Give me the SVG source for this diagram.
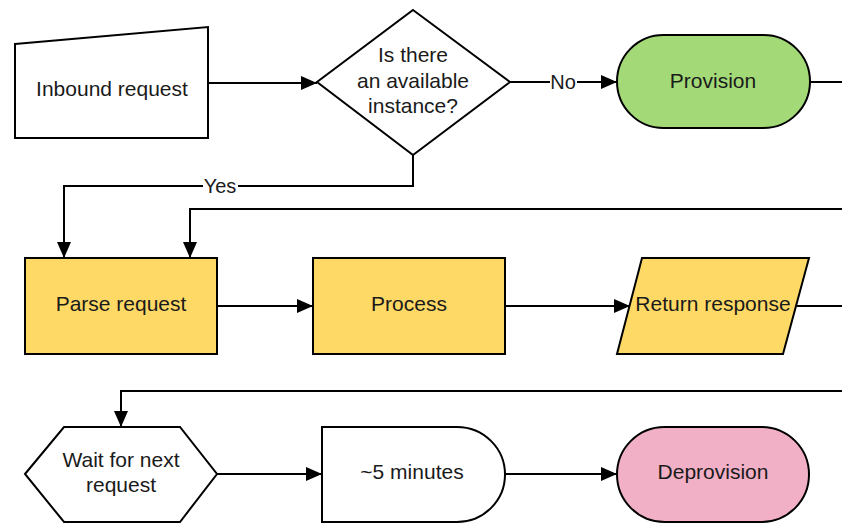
<svg xmlns="http://www.w3.org/2000/svg" width="842" height="524" viewBox="0 0 842 524">
<defs>
<style>
.shape{stroke:#000;stroke-width:2;stroke-linejoin:miter}
.w{fill:#fff}.y{fill:#ffd966}.g{fill:#a3d977}.p{fill:#f1b0c5}
text{font-family:"Liberation Sans",Arial,sans-serif;font-size:21px;fill:#1a1a1a;text-anchor:middle}
.c{fill:none;stroke:#000;stroke-width:2}
.lbl{font-size:20px}
</style>
<marker id="arr" markerUnits="userSpaceOnUse" markerWidth="18" markerHeight="14" refX="16" refY="7" orient="auto">
<path d="M0,0 L16,7 L0,14 z" fill="#000"/>
</marker>
</defs>
<rect width="842" height="524" fill="#fff"/>
<g id="connectors">
<path class="c" d="M208,83 H317" marker-end="url(#arr)"/>
<path class="c" d="M510,82 H617" marker-end="url(#arr)"/>
<path class="c" d="M810,82 H842"/>
<path class="c" d="M413,155 V186 H64 V258" marker-end="url(#arr)"/>
<path class="c" d="M842,209 H190 V258" marker-end="url(#arr)"/>
<path class="c" d="M217,306 H313" marker-end="url(#arr)"/>
<path class="c" d="M505,306 H630" marker-end="url(#arr)"/>
<path class="c" d="M797,306 H842"/>
<path class="c" d="M842,391 H121 V427" marker-end="url(#arr)"/>
<path class="c" d="M217,474 H322" marker-end="url(#arr)"/>
<path class="c" d="M505,474 H617" marker-end="url(#arr)"/>
<rect x="550" y="70" width="27" height="24" fill="#fff"/>
<text class="lbl" x="563" y="89">No</text>
<rect x="203" y="174" width="35" height="24" fill="#fff"/>
<text class="lbl" x="220" y="193">Yes</text>
</g>
<g id="inbound">
<path class="shape w" d="M15,44 L208,27 V138 H15 Z"/>
<text x="112" y="96">Inbound request</text>
</g>
<g id="decision">
<path class="shape w" d="M413,10 L510,82 L413,155 L317,82 Z"/>
<text x="413" y="62">Is there</text>
<text x="413" y="88">an available</text>
<text x="413" y="113">instance?</text>
</g>
<g id="provision">
<rect class="shape g" x="617" y="35" width="193" height="93" rx="46.5"/>
<text x="713" y="88">Provision</text>
</g>
<g id="parse">
<rect class="shape y" x="25" y="258" width="192" height="96"/>
<text x="121" y="311">Parse request</text>
</g>
<g id="process">
<rect class="shape y" x="313" y="258" width="192" height="96"/>
<text x="409" y="311">Process</text>
</g>
<g id="return">
<path class="shape y" d="M642,258 H809 L783,354 H617 Z"/>
<text x="713" y="311">Return response</text>
</g>
<g id="wait">
<path class="shape w" d="M25,474 L64,427 H180 L217,474 L180,522 H64 Z"/>
<text x="121" y="467">Wait for next</text>
<text x="121" y="492">request</text>
</g>
<g id="delay">
<path class="shape w" d="M322,427 H457 A48,47.5 0 0 1 457,522 H322 Z"/>
<text x="412" y="479">~5 minutes</text>
</g>
<g id="deprovision">
<rect class="shape p" x="617" y="427" width="192" height="95" rx="47.5"/>
<text x="713" y="479">Deprovision</text>
</g>
</svg>
